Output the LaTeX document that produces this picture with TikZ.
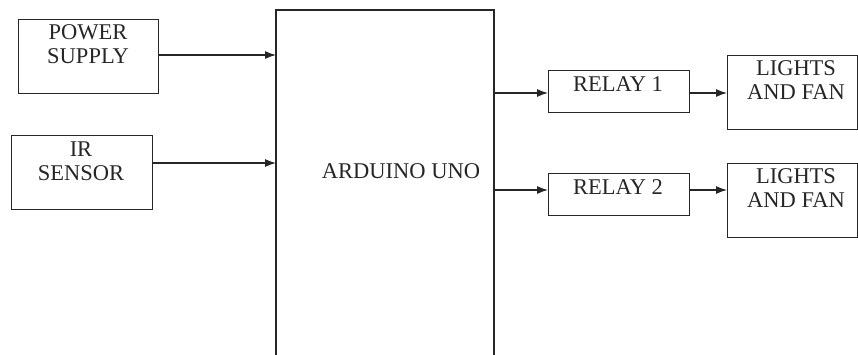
\documentclass[tikz,border=0pt]{standalone}
\usepackage{fontspec}
\setmainfont{Liberation Serif}
\usetikzlibrary{arrows.meta}
\begin{document}
\begin{tikzpicture}[x=1pt,y=-1pt,
  blk/.style={draw=black!85,line width=1.2pt,inner sep=0pt,anchor=north west},
  lbl/.style={font=\fontsize{22.5}{23.5}\selectfont,text=black!85,align=center,inner sep=0pt,anchor=base},
  conn/.style={draw=black!85,line width=1.2pt,-{Latex[length=11pt,width=8pt]}}]
\useasboundingbox[fill=white] (0,0) rectangle (858,354);
% boxes
\node[blk,minimum width=140pt,minimum height=74pt] (ps) at (18,19) {};
\node[blk,minimum width=141pt,minimum height=74pt] (ir) at (11,135) {};
\node[blk,minimum width=141pt,minimum height=42pt] (r1) at (548,70) {};
\node[blk,minimum width=141pt,minimum height=42pt] (r2) at (548,173) {};
\node[blk,minimum width=130pt,minimum height=74pt] (l1) at (727,55) {};
\node[blk,minimum width=130pt,minimum height=74pt] (l2) at (727,163) {};
% arduino (open at bottom)
\coordinate (abl) at (276,360);
\coordinate (atl) at (276,10);
\coordinate (atr) at (494,10);
\coordinate (abr) at (494,360);
\draw[draw=black!85,line width=1.2pt] (abl) -- (atl) -- (atr) -- (abr);
% texts
\node[lbl] (pst) at (88,63) {POWER\\SUPPLY};
\node[lbl] (irt) at (81,180) {IR\\SENSOR};
\node[lbl] (r1t) at (618,91) {RELAY 1};
\node[lbl] (r2t) at (618,194) {RELAY 2};
\node[lbl] (l1t) at (796,99) {LIGHTS\\AND FAN};
\node[lbl] (l2t) at (796,207) {LIGHTS\\AND FAN};
\node[lbl] (at) at (401,178) {ARDUINO UNO};
% connectors
\coordinate (ain1) at (276,55);
\coordinate (ain2) at (276,163);
\coordinate (aout1) at (494,93);
\coordinate (aout2) at (494,190);
\draw[conn] (ps.east |- ain1) -- (ain1);
\draw[conn] (ir.east |- ain2) -- (ain2);
\draw[conn] (aout1) -- (r1.west |- aout1);
\draw[conn] (aout2) -- (r2.west |- aout2);
\draw[conn] (r1.east |- aout1) -- (l1.west |- aout1);
\draw[conn] (r2.east |- aout2) -- (l2.west |- aout2);
\end{tikzpicture}
\end{document}
